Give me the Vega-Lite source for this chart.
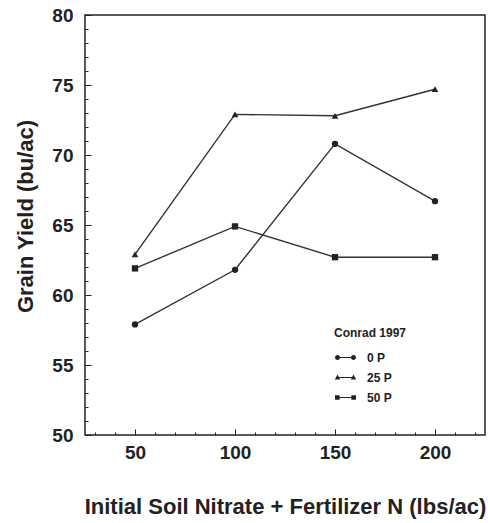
{
  "$schema": "https://vega.github.io/schema/vega-lite/v6.json",
  "width": 400,
  "height": 420,
  "autosize": "none",
  "padding": {"left": 85, "top": 15, "right": 3, "bottom": 88},
  "config": {
    "font": "Liberation Sans",
    "view": {"stroke": "#222", "strokeWidth": 1.5},
    "axis": {"grid": false, "domain": false, "labelFont": "Liberation Sans", "labelFontWeight": "bold", "labelColor": "#222", "tickColor": "#222", "titleColor": "#222", "titleFont": "Liberation Sans", "titleFontWeight": "bold"}
  },
  "data": {
    "values": [
      {"n": 50, "yield": 57.9, "rate": "0 P"},
      {"n": 100, "yield": 61.8, "rate": "0 P"},
      {"n": 150, "yield": 70.8, "rate": "0 P"},
      {"n": 200, "yield": 66.7, "rate": "0 P"},
      {"n": 50, "yield": 62.9, "rate": "25 P"},
      {"n": 100, "yield": 72.9, "rate": "25 P"},
      {"n": 150, "yield": 72.8, "rate": "25 P"},
      {"n": 200, "yield": 74.7, "rate": "25 P"},
      {"n": 50, "yield": 61.9, "rate": "50 P"},
      {"n": 100, "yield": 64.9, "rate": "50 P"},
      {"n": 150, "yield": 62.7, "rate": "50 P"},
      {"n": 200, "yield": 62.7, "rate": "50 P"}
    ]
  },
  "resolve": {"axis": {"x": "independent", "y": "independent"}},
  "layer": [
    {
      "mark": {"type": "line", "color": "#333", "strokeWidth": 1.4},
      "encoding": {
        "x": {"field": "n", "type": "quantitative", "scale": {"domain": [25, 225], "nice": false},
              "axis": {"orient": "bottom", "values": [30,40,60,70,80,90,110,120,130,140,160,170,180,190,210,220], "labels": false, "tickSize": -3, "title": null}},
        "y": {"field": "yield", "type": "quantitative", "scale": {"domain": [50, 80], "nice": false, "zero": false},
              "axis": {"orient": "left", "values": [51,52,53,54,56,57,58,59,61,62,63,64,66,67,68,69,71,72,73,74,76,77,78,79], "labels": false, "tickSize": -3, "title": null}},
        "detail": {"field": "rate"}
      }
    },
    {
      "transform": [{"filter": "datum.rate === '0 P'"}],
      "mark": {"type": "point", "filled": true, "shape": "circle", "color": "#222", "size": 40, "opacity": 1},
      "encoding": {
        "x": {"field": "n", "type": "quantitative",
              "axis": {"orient": "bottom", "values": [50, 100, 150, 200], "tickSize": -6, "labelPadding": 14, "labelFontSize": 19, "title": "Initial Soil Nitrate + Fertilizer N (lbs/ac)", "titleFontSize": 22, "titlePadding": 34}},
        "y": {"field": "yield", "type": "quantitative",
              "axis": {"orient": "left", "values": [50, 55, 60, 65, 70, 75, 80], "tickSize": -6, "labelPadding": 18, "labelFontSize": 19, "title": "Grain Yield (bu/ac)", "titleFontSize": 22, "titlePadding": 14, "titleY": 201}}
      }
    },
    {
      "transform": [{"filter": "datum.rate === '25 P'"}],
      "mark": {"type": "point", "filled": true, "shape": "triangle-up", "color": "#222", "size": 44, "opacity": 1},
      "encoding": {
        "x": {"field": "n", "type": "quantitative", "axis": null},
        "y": {"field": "yield", "type": "quantitative", "axis": null}
      }
    },
    {
      "transform": [{"filter": "datum.rate === '50 P'"}],
      "mark": {"type": "point", "filled": true, "shape": "square", "color": "#222", "size": 40, "opacity": 1},
      "encoding": {
        "x": {"field": "n", "type": "quantitative", "axis": null},
        "y": {"field": "yield", "type": "quantitative", "axis": null}
      }
    },
    {
      "mark": {"type": "point", "filled": true, "color": "#222", "opacity": 0},
      "encoding": {
        "x": {"field": "n", "type": "quantitative", "axis": null},
        "y": {"field": "yield", "type": "quantitative", "axis": null},
        "shape": {
          "field": "rate", "type": "nominal",
          "scale": {"domain": ["0 P", "25 P", "50 P"], "range": [
            "M-1,0A0.24,0.24 0 1,1 -0.52,0A0.24,0.24 0 1,1 -1,0ZM-0.76,-0.05H0.76V0.05H-0.76ZM0.52,0A0.24,0.24 0 1,1 1,0A0.24,0.24 0 1,1 0.52,0Z",
            "M-0.76,-0.28L-0.5,0.18L-1.02,0.18ZM-0.76,-0.05H0.76V0.05H-0.76ZM0.76,-0.28L1.02,0.18L0.5,0.18Z",
            "M-1,-0.22H-0.56V0.22H-1ZM-0.76,-0.05H0.76V0.05H-0.76ZM0.56,-0.22H1V0.22H0.56Z"
          ]},
          "legend": {
            "orient": "none", "legendX": 249, "legendY": 313,
            "title": "Conrad 1997", "titleFontSize": 12, "titleFontWeight": "bold", "titleColor": "#222", "titlePadding": 6,
            "labelFontSize": 12, "labelFontWeight": "bold", "labelColor": "#222", "labelOffset": 10,
            "symbolSize": 441, "rowPadding": 2, "symbolOpacity": 1,
            "symbolFillColor": "#222"
          }
        }
      }
    }
  ]
}
